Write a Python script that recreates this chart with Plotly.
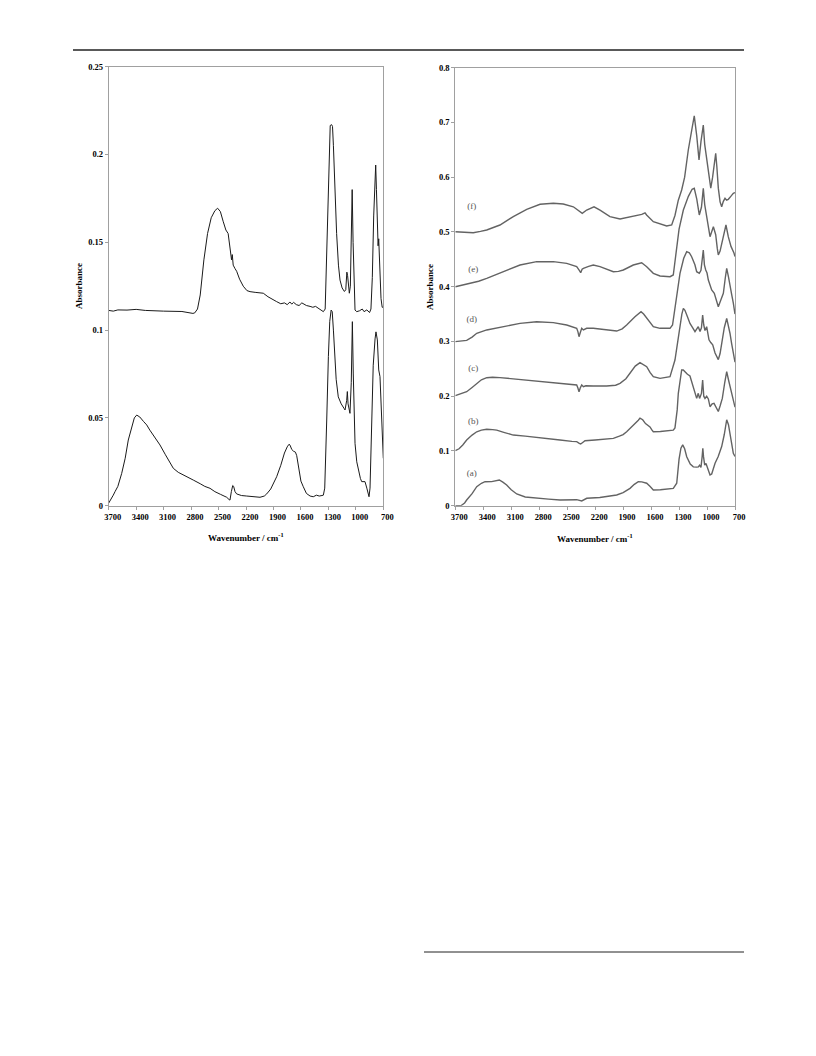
import plotly.graph_objects as go

# ---------------- data: left panel ----------------
left_upper_wn = [3700, 3650, 3600, 3500, 3400, 3300, 3100, 2900, 2780, 2760, 2730, 2700, 2660, 2620, 2580, 2540, 2510, 2480, 2450, 2420, 2395, 2380, 2365, 2358, 2350, 2340, 2320, 2302, 2270, 2230, 2190, 2156, 2100, 2050, 2011, 1960, 1900, 1865, 1820, 1780, 1750, 1720, 1700, 1680, 1650, 1620, 1590, 1570, 1540, 1500, 1470, 1440, 1400, 1355, 1335, 1320, 1305, 1290, 1280, 1265, 1255, 1245, 1230, 1210, 1190, 1173, 1150, 1125, 1110, 1098, 1090, 1080, 1071, 1060, 1050, 1040, 1030, 1020, 1009, 990, 960, 930, 910, 880, 850, 835, 820, 805, 790, 783, 775, 765, 757, 750, 745, 738, 725, 712, 700]
left_upper_abs = [0.1112, 0.1108, 0.1115, 0.1114, 0.1118, 0.1112, 0.1108, 0.1106, 0.1095, 0.1098, 0.112, 0.120, 0.140, 0.155, 0.164, 0.168, 0.1694, 0.1675, 0.162, 0.157, 0.155, 0.149, 0.144, 0.140, 0.143, 0.137, 0.135, 0.1335, 0.129, 0.125, 0.1225, 0.1219, 0.1215, 0.1212, 0.121, 0.119, 0.117, 0.1162, 0.115, 0.1155, 0.1145, 0.116, 0.1148, 0.1158, 0.1145, 0.1140, 0.1155, 0.1148, 0.1140, 0.1135, 0.1130, 0.1135, 0.1120, 0.1105, 0.112, 0.140, 0.180, 0.210, 0.2165, 0.2170, 0.2160, 0.205, 0.180, 0.155, 0.137, 0.1285, 0.124, 0.122, 0.123, 0.133, 0.131, 0.122, 0.121, 0.125, 0.150, 0.180, 0.150, 0.120, 0.1114, 0.1105, 0.111, 0.112, 0.1105, 0.1115, 0.110, 0.112, 0.130, 0.165, 0.190, 0.194, 0.180, 0.160, 0.148, 0.152, 0.145, 0.130, 0.118, 0.113, 0.113]

left_lower_wn = [3700, 3680, 3650, 3631, 3600, 3558, 3520, 3486, 3450, 3420, 3394, 3360, 3320, 3285, 3250, 3200, 3140, 3080, 3030, 2994, 2940, 2880, 2830, 2776, 2700, 2650, 2593, 2540, 2480, 2440, 2411, 2385, 2375, 2360, 2345, 2335, 2320, 2302, 2250, 2192, 2120, 2047, 2000, 1974, 1930, 1900, 1865, 1820, 1780, 1750, 1730, 1719, 1700, 1680, 1660, 1646, 1620, 1600, 1574, 1540, 1500, 1465, 1430, 1400, 1370, 1355, 1340, 1330, 1318, 1300, 1285, 1270, 1258, 1245, 1230, 1215, 1192, 1160, 1130, 1118, 1100, 1093, 1085, 1064, 1050, 1038, 1028, 1009, 990, 973, 950, 936, 918, 900, 880, 856, 845, 830, 810, 790, 780, 765, 750, 736, 718, 705, 700]
left_lower_abs = [0.0015, 0.003, 0.006, 0.008, 0.011, 0.0184, 0.027, 0.0374, 0.045, 0.050, 0.0516, 0.0505, 0.048, 0.046, 0.043, 0.039, 0.0346, 0.029, 0.024, 0.0213, 0.019, 0.0175, 0.016, 0.0146, 0.0125, 0.011, 0.0099, 0.008, 0.0065, 0.0055, 0.0048, 0.0035, 0.0032, 0.008, 0.0115, 0.011, 0.008, 0.0067, 0.0058, 0.0055, 0.005, 0.0048, 0.0055, 0.0067, 0.0095, 0.013, 0.0165, 0.023, 0.030, 0.0335, 0.035, 0.0345, 0.032, 0.031, 0.0305, 0.0285, 0.020, 0.014, 0.0108, 0.007, 0.0055, 0.0051, 0.006, 0.0055, 0.0058, 0.006, 0.010, 0.025, 0.0488, 0.085, 0.105, 0.1114, 0.1105, 0.100, 0.085, 0.072, 0.062, 0.058, 0.0555, 0.0545, 0.060, 0.065, 0.058, 0.0526, 0.070, 0.1048, 0.075, 0.0355, 0.025, 0.0203, 0.0155, 0.0137, 0.0135, 0.0137, 0.010, 0.0051, 0.010, 0.040, 0.080, 0.095, 0.099, 0.0944, 0.0773, 0.0735, 0.0545, 0.035, 0.027]

# ---------------- data: right panel ----------------
a_wn = [3700, 3640, 3600, 3578, 3520, 3470, 3420, 3381, 3310, 3260, 3228, 3190, 3149, 3100, 3041, 2950, 2827, 2700, 2577, 2450, 2398, 2344, 2290, 2150, 2050, 1969, 1900, 1826, 1780, 1737, 1700, 1647, 1610, 1576, 1500, 1440, 1362, 1325, 1300, 1280, 1261, 1240, 1218, 1180, 1147, 1110, 1093, 1080, 1065, 1052, 1045, 1038, 1025, 1011, 995, 968, 950, 914, 880, 843, 815, 795, 789, 770, 754, 735, 718, 700]
a_abs = [0.0, 0.0, 0.005, 0.0104, 0.022, 0.0347, 0.041, 0.0438, 0.044, 0.045, 0.047, 0.043, 0.0378, 0.029, 0.0214, 0.016, 0.0135, 0.012, 0.0104, 0.011, 0.011, 0.0086, 0.0135, 0.015, 0.0175, 0.0195, 0.024, 0.0317, 0.039, 0.0438, 0.0435, 0.041, 0.035, 0.0287, 0.029, 0.030, 0.0317, 0.041, 0.085, 0.105, 0.111, 0.104, 0.0895, 0.076, 0.071, 0.0705, 0.071, 0.074, 0.07, 0.09, 0.105, 0.09, 0.074, 0.077, 0.07, 0.056, 0.058, 0.0774, 0.090, 0.108, 0.130, 0.153, 0.157, 0.148, 0.132, 0.118, 0.0957, 0.090]

b_wn = [3700, 3660, 3620, 3578, 3520, 3470, 3420, 3363, 3300, 3256, 3180, 3078, 2950, 2827, 2700, 2577, 2450, 2398, 2370, 2355, 2330, 2309, 2200, 2100, 2005, 1940, 1900, 1862, 1800, 1760, 1737, 1719, 1690, 1660, 1630, 1612, 1590, 1576, 1500, 1440, 1400, 1362, 1344, 1320, 1308, 1290, 1272, 1255, 1237, 1210, 1183, 1150, 1111, 1094, 1080, 1060, 1047, 1035, 1022, 1004, 986, 968, 945, 925, 900, 879, 860, 836, 810, 789, 770, 754, 736, 711, 700]
b_abs = [0.1005, 0.104, 0.111, 0.12, 0.129, 0.135, 0.138, 0.1395, 0.139, 0.138, 0.134, 0.129, 0.127, 0.125, 0.122, 0.12, 0.1175, 0.117, 0.114, 0.1127, 0.116, 0.1187, 0.120, 0.121, 0.123, 0.127, 0.130, 0.135, 0.145, 0.152, 0.156, 0.16, 0.157, 0.150, 0.147, 0.144, 0.138, 0.135, 0.1355, 0.136, 0.137, 0.138, 0.142, 0.175, 0.2053, 0.232, 0.2479, 0.248, 0.2443, 0.240, 0.237, 0.218, 0.196, 0.2053, 0.196, 0.205, 0.2296, 0.2, 0.196, 0.2, 0.195, 0.1808, 0.186, 0.187, 0.178, 0.172, 0.182, 0.196, 0.225, 0.2448, 0.230, 0.218, 0.2053, 0.184, 0.180]

c_wn = [3700, 3640, 3578, 3520, 3470, 3420, 3363, 3300, 3221, 3100, 3006, 2827, 2649, 2470, 2398, 2385, 2373, 2360, 2344, 2326, 2300, 2220, 2077, 1980, 1933, 1870, 1826, 1770, 1719, 1680, 1647, 1610, 1576, 1504, 1450, 1397, 1344, 1320, 1290, 1270, 1254, 1237, 1210, 1183, 1150, 1129, 1094, 1075, 1060, 1047, 1035, 1022, 1004, 979, 960, 939, 914, 879, 860, 843, 815, 789, 770, 754, 736, 718, 700]
c_abs = [0.2009, 0.204, 0.2082, 0.216, 0.2235, 0.230, 0.2338, 0.2345, 0.234, 0.232, 0.2308, 0.2284, 0.2247, 0.2222, 0.2204, 0.215, 0.2082, 0.215, 0.2204, 0.2174, 0.219, 0.2186, 0.2186, 0.220, 0.2235, 0.232, 0.2418, 0.255, 0.2612, 0.258, 0.2539, 0.243, 0.2356, 0.2326, 0.2335, 0.2356, 0.266, 0.295, 0.327, 0.350, 0.3605, 0.357, 0.345, 0.333, 0.324, 0.318, 0.327, 0.318, 0.325, 0.3483, 0.33, 0.32, 0.327, 0.303, 0.298, 0.294, 0.279, 0.2667, 0.278, 0.297, 0.325, 0.342, 0.330, 0.315, 0.296, 0.279, 0.262]

d_wn = [3700, 3640, 3578, 3520, 3470, 3363, 3185, 3006, 2827, 2649, 2505, 2398, 2385, 2373, 2360, 2344, 2326, 2291, 2220, 2077, 1969, 1910, 1862, 1773, 1708, 1680, 1647, 1610, 1576, 1504, 1397, 1370, 1344, 1320, 1290, 1250, 1218, 1190, 1165, 1130, 1111, 1083, 1065, 1040, 1028, 1014, 1000, 986, 960, 950, 922, 900, 879, 860, 825, 805, 789, 770, 754, 735, 718, 700]
d_abs = [0.2996, 0.301, 0.302, 0.308, 0.3149, 0.321, 0.327, 0.333, 0.3361, 0.3343, 0.33, 0.324, 0.318, 0.3087, 0.316, 0.324, 0.321, 0.324, 0.324, 0.321, 0.319, 0.323, 0.33, 0.345, 0.3544, 0.350, 0.3422, 0.333, 0.327, 0.324, 0.324, 0.33, 0.36, 0.395, 0.4244, 0.452, 0.4639, 0.462, 0.4548, 0.44, 0.4274, 0.4244, 0.430, 0.467, 0.44, 0.4305, 0.425, 0.4122, 0.397, 0.394, 0.388, 0.375, 0.3635, 0.372, 0.388, 0.415, 0.4336, 0.418, 0.40, 0.385, 0.37, 0.35]

e_wn = [3700, 3620, 3542, 3450, 3363, 3185, 3006, 2827, 2649, 2505, 2398, 2370, 2355, 2340, 2326, 2270, 2220, 2148, 2070, 2005, 1950, 1898, 1791, 1701, 1647, 1610, 1576, 1504, 1397, 1362, 1326, 1300, 1254, 1200, 1160, 1137, 1110, 1083, 1060, 1040, 1025, 1011, 990, 968, 932, 907, 890, 879, 860, 836, 815, 797, 772, 743, 711, 700]
e_abs = [0.4, 0.403, 0.406, 0.410, 0.4153, 0.4274, 0.4396, 0.4457, 0.4457, 0.4427, 0.4366, 0.430, 0.4256, 0.432, 0.4335, 0.437, 0.4396, 0.4366, 0.431, 0.4274, 0.428, 0.4305, 0.4396, 0.4438, 0.4366, 0.430, 0.4245, 0.4196, 0.4183, 0.4214, 0.473, 0.505, 0.540, 0.565, 0.578, 0.5797, 0.56, 0.531, 0.545, 0.5797, 0.55, 0.534, 0.51, 0.4913, 0.5096, 0.495, 0.47, 0.4579, 0.465, 0.4823, 0.50, 0.5127, 0.4913, 0.4736, 0.4615, 0.455]

f_wn = [3700, 3600, 3507, 3430, 3363, 3221, 3078, 2934, 2791, 2649, 2542, 2434, 2362, 2338, 2291, 2212, 2148, 2041, 1933, 1791, 1700, 1665, 1648, 1576, 1504, 1433, 1379, 1344, 1308, 1272, 1240, 1201, 1165, 1137, 1110, 1086, 1065, 1040, 1025, 1004, 985, 960, 940, 907, 895, 879, 860, 843, 825, 807, 790, 772, 745, 718, 700]
f_abs = [0.5004, 0.4995, 0.4986, 0.501, 0.5036, 0.5127, 0.528, 0.5413, 0.5505, 0.5523, 0.551, 0.546, 0.537, 0.534, 0.54, 0.546, 0.54, 0.528, 0.5236, 0.528, 0.532, 0.535, 0.531, 0.5187, 0.5145, 0.5108, 0.5127, 0.530, 0.558, 0.5766, 0.60, 0.6497, 0.685, 0.712, 0.675, 0.6315, 0.665, 0.6953, 0.66, 0.6345, 0.61, 0.58, 0.600, 0.6437, 0.62, 0.58, 0.555, 0.546, 0.556, 0.5614, 0.558, 0.5596, 0.565, 0.5706, 0.572]

right_labels = ["(a)", "(b)", "(c)", "(d)", "(e)", "(f)"]
label_wn = [3524, 3507, 3507, 3524, 3507, 3524]
label_abs = [0.0592, 0.1534, 0.251, 0.339, 0.4305, 0.546]

x_ticks = [3700, 3400, 3100, 2800, 2500, 2200, 1900, 1600, 1300, 1000, 700]
left_yticks = [0, 0.05, 0.1, 0.15, 0.2, 0.25]
left_ytext = ["0", "0.05", "0.1", "0.15", "0.2", "0.25"]
right_yticks = [0, 0.1, 0.2, 0.3, 0.4, 0.5, 0.6, 0.7, 0.8]
right_ytext = ["0", "0.1", "0.2", "0.3", "0.4", "0.5", "0.6", "0.7", "0.8"]

# ---------------- figure ----------------
# The page body has an 8px margin, so the figure is 800x1040 and
# page-pixel positions are converted to paper fractions with that offset.
OFF = 8
W, H = 800, 1040
FONT = "Liberation Serif, Times New Roman, serif"

def px_x(p):
    return (p - OFF) / W

def px_y(p):
    return 1 - (p - OFF) / H

fig = go.Figure()

left_color = "#1a1a1a"
right_color = "#636363"

fig.add_trace(go.Scatter(x=left_upper_wn, y=left_upper_abs, mode="lines",
                         line=dict(color=left_color, width=1), xaxis="x", yaxis="y"))
fig.add_trace(go.Scatter(x=left_lower_wn, y=left_lower_abs, mode="lines",
                         line=dict(color=left_color, width=1), xaxis="x", yaxis="y"))

for wn, ab in [(a_wn, a_abs), (b_wn, b_abs), (c_wn, c_abs), (d_wn, d_abs), (e_wn, e_abs), (f_wn, f_abs)]:
    fig.add_trace(go.Scatter(x=wn, y=ab, mode="lines",
                             line=dict(color=right_color, width=1.4), xaxis="x2", yaxis="y2"))

fig.add_trace(go.Scatter(x=label_wn, y=label_abs, mode="text", text=right_labels,
                         textfont=dict(family=FONT, size=9, color="#555555"),
                         xaxis="x2", yaxis="y2"))

axis_common = dict(showgrid=False, zeroline=False, showline=True, linecolor="#a0a0a0",
                   linewidth=1, mirror=True, ticks="outside", ticklen=3, tickcolor="#a0a0a0",
                   automargin=False,
                   tickfont=dict(family=FONT, size=8.5, color="#000000", weight="bold"))

fig.update_layout(
    width=W, height=H, margin=dict(l=0, r=0, t=0, b=0, pad=0, autoexpand=False),
    paper_bgcolor="white", plot_bgcolor="white", showlegend=False,
    xaxis=dict(domain=[px_x(108.7), px_x(383.3)], range=[3700, 700], anchor="y",
               tickvals=x_ticks, ticktext=[str(v) for v in x_ticks], ticklabelshift=-4,
               **axis_common),
    yaxis=dict(domain=[px_y(505.7), px_y(66.7)], range=[0, 0.25], anchor="x",
               tickvals=left_yticks, ticktext=left_ytext, **axis_common),
    xaxis2=dict(domain=[px_x(455.3), px_x(735)], range=[3700, 700], anchor="y2",
                tickvals=x_ticks, ticktext=[str(v) for v in x_ticks], ticklabelshift=-4,
                **axis_common),
    yaxis2=dict(domain=[px_y(505.7), px_y(67.7)], range=[0, 0.8], anchor="x2",
                tickvals=right_yticks, ticktext=right_ytext, **axis_common),
)

title_font = dict(family=FONT, size=9, color="#000000", weight="bold")
annotations = [
    dict(text="Wavenumber / cm<sup>-1</sup>", x=px_x(246), y=px_y(537), xref="paper", yref="paper",
         showarrow=False, font=title_font, xanchor="center", yanchor="middle"),
    dict(text="Wavenumber / cm<sup>-1</sup>", x=px_x(595), y=px_y(538), xref="paper", yref="paper",
         showarrow=False, font=title_font, xanchor="center", yanchor="middle"),
    dict(text="Absorbance", x=px_x(79), y=px_y(286), xref="paper", yref="paper", textangle=-90,
         showarrow=False, font=title_font, xanchor="center", yanchor="middle"),
    dict(text="Absorbance", x=px_x(430), y=px_y(287), xref="paper", yref="paper", textangle=-90,
         showarrow=False, font=title_font, xanchor="center", yanchor="middle"),
]
fig.update_layout(annotations=annotations)

fig.add_shape(type="line", xref="paper", yref="paper", x0=px_x(73), x1=px_x(744),
              y0=px_y(50), y1=px_y(50), line=dict(color="#222222", width=1.3))
fig.add_shape(type="line", xref="paper", yref="paper", x0=px_x(424), x1=px_x(744),
              y0=px_y(952), y1=px_y(952), line=dict(color="#222222", width=1))

fig.write_html("out.html")
